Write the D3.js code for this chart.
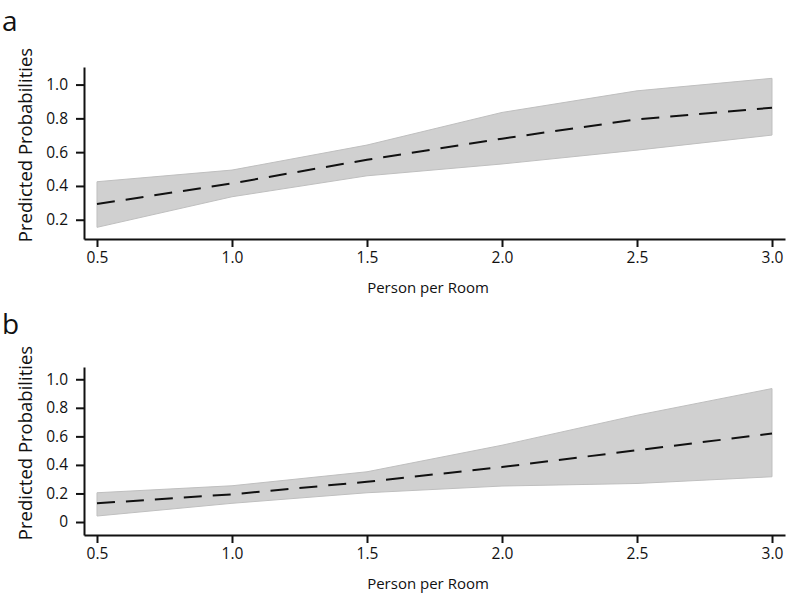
<!DOCTYPE html>
<html>
<head>
<meta charset="utf-8">
<script src="https://cdn.jsdelivr.net/npm/d3@7/dist/d3.min.js"></script>
<style>
  html, body { margin: 0; padding: 0; background: #fff; }
  svg { display: block; }
  text { font-family: "Open Sans", "Noto Sans", sans-serif; fill: #111; }
</style>
</head>
<body>
<svg id="chart" width="787" height="595"></svg>
<script>
// ---- data ----
const personPerRoom = [0.5, 1.0, 1.5, 2.0, 2.5, 3.0];

const aMean  = [0.293, 0.415, 0.555, 0.680, 0.794, 0.863];
const aUpper = [0.425, 0.494, 0.642, 0.835, 0.963, 1.037];
const aLower = [0.155, 0.336, 0.460, 0.530, 0.612, 0.701];

const bMean  = [0.131, 0.194, 0.282, 0.385, 0.503, 0.620];
const bUpper = [0.205, 0.254, 0.352, 0.538, 0.748, 0.935];
const bLower = [0.042, 0.131, 0.205, 0.252, 0.270, 0.317];

const xTickValues = [0.5, 1.0, 1.5, 2.0, 2.5, 3.0];
const xTickLabels = ["0.5", "1.0", "1.5", "2.0", "2.5", "3.0"];
const aYTickValues = [0.2, 0.4, 0.6, 0.8, 1.0];
const aYTickLabels = ["0.2", "0.4", "0.6", "0.8", "1.0"];
const bYTickValues = [0, 0.2, 0.4, 0.6, 0.8, 1.0];
const bYTickLabels = ["0", "0.2", "0.4", "0.6", "0.8", "1.0"];

const panels = [
  { letter: "a", mean: aMean, upper: aUpper, lower: aLower,
    yDomain: [0.086, 1.104], yRange: [239, 67],
    yTicks: aYTickValues, yLabels: aYTickLabels, letterY: 31 },
  { letter: "b", mean: bMean, upper: bUpper, lower: bLower,
    yDomain: [-0.091, 1.086], yRange: [535, 367],
    yTicks: bYTickValues, yLabels: bYTickLabels, letterY: 334 }
];

const svg = d3.select("#chart");
const x = d3.scaleLinear().domain([0.4519, 3.0481]).range([84, 785]);

panels.forEach(p => {
  const y = d3.scaleLinear().domain(p.yDomain).range(p.yRange);
  const g = svg.append("g");
  const rows = personPerRoom.map((v, i) => ({ x: v, m: p.mean[i], lo: p.lower[i], hi: p.upper[i] }));

  // confidence band
  g.append("path")
    .datum(rows)
    .attr("fill", "#d0d0d0")
    .attr("stroke", "#bfbfbf")
    .attr("stroke-width", 1)
    .attr("d", d3.area().x(d => x(d.x)).y0(d => y(d.lo)).y1(d => y(d.hi)));

  // predicted line
  g.append("path")
    .datum(rows)
    .attr("fill", "none")
    .attr("stroke", "#111")
    .attr("stroke-width", 2)
    .attr("stroke-dasharray", "18,11")
    .attr("d", d3.line().x(d => x(d.x)).y(d => y(d.m)));

  // axes
  const xAxis = d3.axisBottom(x)
    .tickValues(xTickValues)
    .tickFormat((d, i) => xTickLabels[i])
    .tickSize(8).tickSizeOuter(0).tickPadding(5);
  const xg = g.append("g").attr("transform", `translate(0,${p.yRange[0]})`).call(xAxis);

  const yAxis = d3.axisLeft(y)
    .tickValues(p.yTicks)
    .tickFormat((d, i) => p.yLabels[i])
    .tickSize(8).tickSizeOuter(0).tickPadding(8);
  const yg = g.append("g").attr("transform", `translate(84,0)`).call(yAxis);

  [xg, yg].forEach(ax => {
    ax.select(".domain").attr("stroke", "#111").attr("stroke-width", 2);
    ax.selectAll(".tick line").attr("stroke", "#111").attr("stroke-width", 2);
    ax.selectAll(".tick text").style("font-family", '"Open Sans", sans-serif')
      .style("font-size", "15.5px").attr("fill", "#111");
  });

  // axis titles
  g.append("text")
    .attr("x", 428).attr("y", p.yRange[0] + 54)
    .attr("text-anchor", "middle")
    .style("font-size", "15px")
    .text("Person per Room");

  const midY = (p.yRange[0] + p.yRange[1]) / 2 - 8;
  g.append("text")
    .attr("transform", `translate(32,${midY}) rotate(-90)`)
    .attr("text-anchor", "middle")
    .style("font-size", "18.5px")
    .text("Predicted Probabilities");

  // panel letter
  g.append("text")
    .attr("x", 2).attr("y", p.letterY)
    .style("font-size", "28px")
    .text(p.letter);
});
</script>
</body>
</html>
